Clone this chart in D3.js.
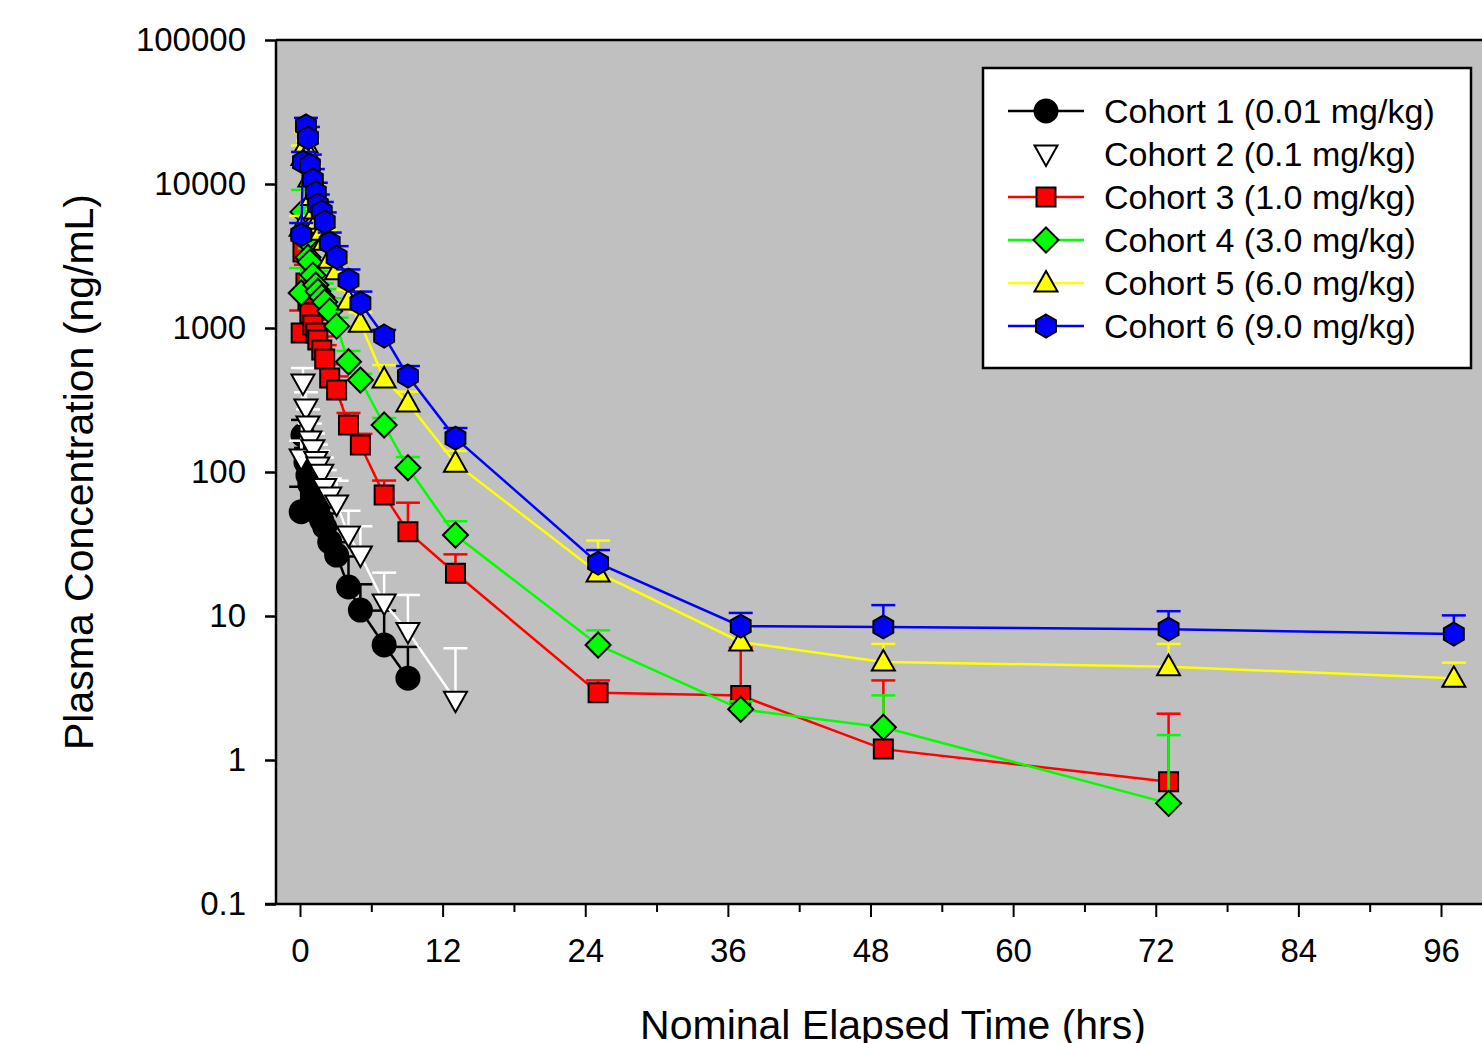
<!DOCTYPE html>
<html>
<head>
<meta charset="utf-8">
<script src="https://cdn.jsdelivr.net/npm/d3@7"></script>
<style>
  html, body { margin: 0; padding: 0; background: #fff; }
  svg text { font-family: "Liberation Sans", Arial, sans-serif; fill: #000; }
</style>
</head>
<body>
<div id="chart"></div>
<script>
// PK profile: plasma concentration by cohort (mean + upper SD)

// nominal sampling times (hrs)
const timePoints = [0.1, 0.25, 0.5, 0.67, 0.83, 1.08, 1.33, 1.5, 1.83, 2.08, 2.5, 3.08,
  4.08, 5.08, 7.08, 9.08, 13.08, 25.08, 37.08, 49.08, 73.08, 97.08];

const cohortNames = ['Cohort 1 (0.01 mg/kg)', 'Cohort 2 (0.1 mg/kg)', 'Cohort 3 (1.0 mg/kg)',
  'Cohort 4 (3.0 mg/kg)', 'Cohort 5 (6.0 mg/kg)', 'Cohort 6 (9.0 mg/kg)'];

const cohort1Mean = [53, 180, 117, 95, 82, 70, 60, 52, 46, 41.5, 32.7, 26.5, 15.9, 11.0, 6.3, 3.7];
const cohort1Sd   = [26, 50, 30, 25, 20, 18, 15, 13, 11, 10, 8, 6, 10, 5.6, 4.6, 2.4];

const cohort2Mean = [125, 415, 278, 212, 167, 145, 120, 110, 98, 78, 68, 60, 36.5, 26.5, 12.3, 7.8, 2.6];
const cohort2Sd   = [40, 112, 80, 60, 50, 40, 35, 30, 28, 25, 22, 27, 17.3, 15.5, 7.7, 6.2, 3.37];

const cohort3Mean = [923, 3370, 2050, 1565, 1270, 1050, 923, 826, 703, 610, 450, 371, 212, 154, 69.2, 38.5, 19.8, 2.93, 2.80, 1.19, 0.707];
const cohort3Sd   = [400, 1200, 700, 450, 350, 280, 220, 200, 170, 150, 110, 90, 45, 30, 18, 22.7, 7, 0.64, 3.23, 2.38, 1.39];

const cohort4Mean = [1750, 6400, 4100, 3100, 2870, 2330, 1990, 1800, 1640, 1515, 1310, 1030, 583, 435, 212, 107, 36.5, 6.29, 2.25, 1.69, 0.5];
const cohort4Sd   = [860, 2700, 1200, 800, 700, 600, 500, 450, 400, 350, 300, 150, 110, 45, 25, 20, 9, 1.66, 0.3, 1.12, 0.99];

const cohort5Mean = [5000, 15500, 19000, 16500, 11000, 8200, 6600, 5600, 4700, 4000, 3000, 2500, 1540, 1080, 443, 301, 115, 19.9, 6.6, 4.8, 4.45, 3.69];
const cohort5Sd   = [1000, 3000, 4000, 3500, 2200, 1700, 1300, 1100, 900, 800, 600, 500, 300, 200, 110, 60, 25, 13.5, 1.6, 1.6, 1.95, 1.05];

const cohort6Mean = [4430, 14200, 25300, 20900, 13500, 10700, 8700, 7150, 6400, 5450, 3900, 3100, 2150, 1490, 880, 464, 172, 23.3, 8.5, 8.4, 8.1, 7.5];
const cohort6Sd   = [930, 2500, 3500, 4000, 2500, 2000, 1500, 1300, 1100, 900, 700, 600, 400, 300, 90, 80, 30, 5.4, 2.0, 3.5, 2.7, 2.6];

const xTicks = [0, 12, 24, 36, 48, 60, 72, 84, 96];
const xMinorTicks = [6, 18, 30, 42, 54, 66, 78, 90];
const yTicks = [0.1, 1, 10, 100, 1000, 10000, 100000];

const colors = ['#000000', '#ffffff', '#ff0000', '#00ff00', '#ffff00', '#0000ff'];
const shapes = ['circle', 'triDown', 'square', 'diamond', 'triUp', 'hexagon'];

const means = [cohort1Mean, cohort2Mean, cohort3Mean, cohort4Mean, cohort5Mean, cohort6Mean];
const sds = [cohort1Sd, cohort2Sd, cohort3Sd, cohort4Sd, cohort5Sd, cohort6Sd];

const series = cohortNames.map((name, i) => ({
  name, color: colors[i], shape: shapes[i],
  points: means[i].map((m, j) => ({ t: timePoints[j], mean: m, sd: sds[i][j] }))
}));

const W = 1482, H = 1043;
const plot = { left: 276, right: 1482, top: 40, bottom: 904 };

const svg = d3.select('#chart').append('svg')
  .attr('width', W).attr('height', H);

const x = d3.scaleLinear().domain([0, 96]).range([300, 1441]);
const y = d3.scaleLog().domain([0.1, 100000]).range([plot.bottom, plot.top]);

// plot background
svg.append('rect')
  .attr('x', plot.left).attr('y', plot.top)
  .attr('width', plot.right - plot.left).attr('height', plot.bottom - plot.top)
  .attr('fill', '#c0c0c0');

// marker paths
function markerPath(shape) {
  switch (shape) {
    case 'circle': return d3.symbol(d3.symbolCircle, Math.PI * 11.5 * 11.5)();
    case 'square': return 'M-9.5,-9.5H9.5V9.5H-9.5Z';
    case 'diamond': return 'M0,-12.5L12.5,0L0,12.5L-12.5,0Z';
    case 'triUp': return 'M0,-12L11.5,8.5L-11.5,8.5Z';
    case 'triDown': return 'M0,12L11.5,-8.5L-11.5,-8.5Z';
    case 'hexagon': {
      const r = 11.5;
      const pts = d3.range(6).map(k => {
        const a = Math.PI / 3 * k - Math.PI / 2;
        return [r * Math.cos(a), r * Math.sin(a)];
      });
      return 'M' + pts.map(p => p.join(',')).join('L') + 'Z';
    }
  }
}

const line = d3.line().x(d => x(d.t)).y(d => y(d.mean));

series.forEach(s => {
  const g = svg.append('g');
  // upper error bars
  const eb = g.selectAll('.eb').data(s.points).enter().append('g');
  eb.append('line')
    .attr('x1', d => x(d.t)).attr('x2', d => x(d.t))
    .attr('y1', d => y(d.mean)).attr('y2', d => y(d.mean + d.sd))
    .attr('stroke', s.color).attr('stroke-width', 2.5);
  eb.append('line')
    .attr('x1', d => x(d.t) - 12).attr('x2', d => x(d.t) + 12)
    .attr('y1', d => y(d.mean + d.sd)).attr('y2', d => y(d.mean + d.sd))
    .attr('stroke', s.color).attr('stroke-width', 2.5);
  // connecting line
  g.append('path').datum(s.points)
    .attr('d', line).attr('fill', 'none')
    .attr('stroke', s.color).attr('stroke-width', 2.5);
  // markers
  g.selectAll('.mk').data(s.points).enter().append('path')
    .attr('d', markerPath(s.shape))
    .attr('transform', d => `translate(${x(d.t)},${y(d.mean)})`)
    .attr('fill', s.color).attr('stroke', '#000').attr('stroke-width', 2);
});

// axes frame
svg.append('line').attr('x1', 265).attr('x2', plot.right)
  .attr('y1', plot.bottom).attr('y2', plot.bottom)
  .attr('stroke', '#000').attr('stroke-width', 2.5);
svg.append('line').attr('x1', plot.left).attr('x2', plot.left)
  .attr('y1', plot.top).attr('y2', plot.bottom)
  .attr('stroke', '#000').attr('stroke-width', 2.5);
svg.append('line').attr('x1', plot.left).attr('x2', plot.right)
  .attr('y1', plot.top).attr('y2', plot.top)
  .attr('stroke', '#000').attr('stroke-width', 2.5);

// x axis
const xAxis = svg.append('g').attr('transform', `translate(0,${plot.bottom})`)
  .call(d3.axisBottom(x).tickValues(xTicks).tickSize(13).tickPadding(22).tickFormat(d3.format('d')));
svg.append('g').attr('transform', `translate(0,${plot.bottom})`)
  .call(d3.axisBottom(x).tickValues(xMinorTicks).tickSize(8).tickFormat(''))
  .call(g => g.select('.domain').remove())
  .selectAll('line').attr('stroke-width', 2);
xAxis.select('.domain').remove();
xAxis.selectAll('line').attr('stroke-width', 2);
xAxis.selectAll('text').attr('font-size', 33).attr('font-family', '"Liberation Sans", Arial, sans-serif');

// y axis
const yAxis = svg.append('g').attr('transform', `translate(${plot.left},0)`)
  .call(d3.axisLeft(y).tickValues(yTicks).tickSize(11).tickPadding(19).tickFormat(d => String(d)));
yAxis.select('.domain').remove();
yAxis.selectAll('line').attr('stroke-width', 2.5);
yAxis.selectAll('text').attr('font-size', 33).attr('font-family', '"Liberation Sans", Arial, sans-serif');

// axis titles
svg.append('text')
  .attr('x', 893).attr('y', 1039)
  .attr('text-anchor', 'middle').attr('font-size', 41)
  .text('Nominal Elapsed Time (hrs)');
svg.append('text')
  .attr('transform', 'translate(93,472) rotate(-90)')
  .attr('text-anchor', 'middle').attr('font-size', 41)
  .text('Plasma Concentration (ng/mL)');

// legend
const legend = svg.append('g');
legend.append('rect')
  .attr('x', 983).attr('y', 68).attr('width', 488).attr('height', 300)
  .attr('fill', '#fff').attr('stroke', '#000').attr('stroke-width', 2.5);
series.forEach((s, i) => {
  const ly = 111 + i * 43;
  legend.append('line')
    .attr('x1', 1008).attr('x2', 1084).attr('y1', ly).attr('y2', ly)
    .attr('stroke', s.color).attr('stroke-width', 2.5);
  legend.append('path')
    .attr('d', markerPath(s.shape))
    .attr('transform', `translate(1046,${ly})`)
    .attr('fill', s.color).attr('stroke', '#000').attr('stroke-width', 2);
  legend.append('text')
    .attr('x', 1104).attr('y', ly + 12)
    .attr('font-size', 34)
    .text(s.name);
});
</script>
</body>
</html>
